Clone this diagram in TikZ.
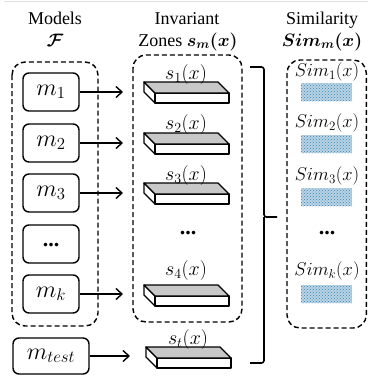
\documentclass[tikz,border=0pt]{standalone}
\usepackage{fix-cm}
\usepackage{fontspec}
\setmainfont{Liberation Serif}
\usepackage{amsmath,bm}
\usetikzlibrary{arrows.meta,patterns}
\definecolor{simblue}{RGB}{60,130,180}
\definecolor{simlight}{RGB}{185,212,228}
\definecolor{slabgray}{RGB}{200,200,200}
\newcommand{\myslab}[2]{%
  \draw[slabside] (#1+144,#2-10) -- (#1+155,#2+1) -- (#1+155,#2+11) -- (#1+144,#2) -- cycle;
  \draw[slabside] (#1+155,#2+1) rectangle (#1+229,#2+11);
  \draw[slabtop] (#1+144,#2-10) -- (#1+218,#2-10) -- (#1+229,#2+1) -- (#1+155,#2+1) -- cycle;
}
\newcommand{\simrect}[1]{%
  \fill[simlight] (301,#1) rectangle (352,#1+18);
  \fill[pattern=crosshatch dots, pattern color=simblue] (301,#1) rectangle (352,#1+18);
}
\begin{document}
\begin{tikzpicture}[x=1pt,y=-1pt,
  title/.style={font=\fontsize{18}{20}\selectfont, anchor=base, inner sep=0},
  lbl/.style={font=\fontsize{20}{22}\selectfont, inner sep=0},
  simlbl/.style={font=\fontsize{18.5}{20}\selectfont, inner sep=0},
  dots/.style={font=\fontsize{22}{24}\selectfont\bfseries, inner sep=0},
  mbox/.style={draw, line width=1.4pt, rounded corners=6pt, minimum width=56pt, minimum height=38pt, inner sep=0, font=\fontsize{24}{26}\selectfont},
  group/.style={draw, line width=1.4pt, dash pattern=on 5pt off 3pt, rounded corners=13pt},
  arr/.style={line width=1.4pt, -{Straight Barb[length=6pt,width=11pt,line width=1.4pt]}},
  slabtop/.style={fill=slabgray, draw, line width=1.3pt, line join=round},
  slabside/.style={fill=white, draw, line width=1.3pt, line join=round},
]
\useasboundingbox (0,0) rectangle (368,381);
\draw[black!12, line width=0.8pt] (4,1.5) -- (368,1.5);

% titles
\node[title] (tmodels) at (55,24) {Models};
\node[title] (tF) at (55,46) {$\bm{\mathcal{F}}$};
\node[title] (tinv) at (187,24) {Invariant};
\node[title] (tzones) at (188,46) {Zones $\bm{s_m(x)}$};
\node[title] (tsim) at (322,24) {Similarity};
\node[title] (tsimm) at (322,46) {$\bm{Sim_m(x)}$};

% groups
\draw[group] (12,62) rectangle (98,326);
\draw[group] (133,55) rectangle (242,322);
\draw[group] (287,60) rectangle (366.3,328);

% model boxes
\node[mbox] (m1) at (51,92) {$m_1$};
\node[mbox] (m2) at (51,143) {$m_2$};
\node[mbox] (m3) at (51,193) {$m_3$};
\node[mbox, font=\fontsize{22}{24}\selectfont\bfseries] (mdots) at (51,244) {\raisebox{-6pt}{...}};
\node[mbox] (mk) at (51,294) {$m_k$};
\node[mbox, minimum width=76pt, minimum height=36pt] (mt) at (51,356) {$m_{test}$};

% slabs
\myslab{0}{92}
\myslab{0}{143}
\myslab{0}{193}
\myslab{0}{295}
\myslab{2}{357}

% arrows
\coordinate (z1) at (123,92);
\coordinate (z2) at (123,143);
\coordinate (z3) at (123,193);
\coordinate (zk) at (123,294);
\coordinate (zt) at (130,356);
\draw[arr] (m1.east) -- (z1);
\draw[arr] (m2.east) -- (z2);
\draw[arr] (m3.east) -- (z3);
\draw[arr] (mk.east) -- (zk);
\draw[arr] (mt.east) -- (zt);

% zone labels
\node[lbl] (s1) at (186,74) {$s_1(x)$};
\node[lbl] (s2) at (186,124) {$s_2(x)$};
\node[lbl] (s3) at (186,175) {$s_3(x)$};
\node[dots] (zdots) at (188,233) {...};
\node[lbl] (s4) at (186,270) {$s_4(x)$};
\node[lbl] (st) at (188,339) {$s_t(x)$};

% brace
\coordinate (bt) at (250,67);
\coordinate (bb) at (250,363);
\coordinate (bm) at (277,217);
\draw[line width=1.6pt, rounded corners=2.5pt] (bt) -| (264,217) -- (bm);
\draw[line width=1.6pt, rounded corners=2.5pt] (bb) -| (264,217);

% similarity
\node[simlbl] (sim1) at (327,72) {$Sim_1(x)$};
\node[simlbl] (sim2) at (327,123) {$Sim_2(x)$};
\node[simlbl] (sim3) at (327,176) {$Sim_3(x)$};
\node[dots] (simdots) at (327,233) {...};
\node[simlbl] (simk) at (327,271) {$Sim_k(x)$};
\simrect{83}
\simrect{135}
\simrect{188}
\simrect{285}
\end{tikzpicture}
\end{document}
